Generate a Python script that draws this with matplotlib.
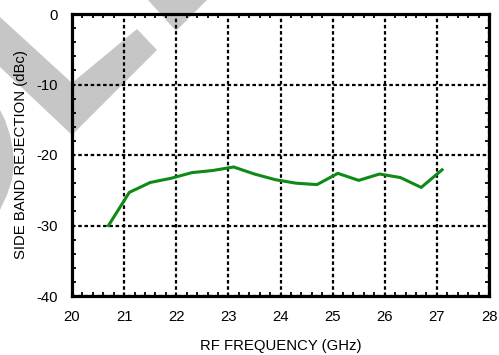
import numpy as np
import matplotlib
matplotlib.use("Agg")
import matplotlib.pyplot as plt
from matplotlib.patches import Polygon
from matplotlib.ticker import MultipleLocator

# Datos
frecuencia = [20.7, 21.1, 21.5, 21.9, 22.3, 22.7, 23.1, 23.5, 23.9, 24.3,
              24.7, 25.1, 25.5, 25.9, 26.3, 26.7, 27.1]
rechazo = [-30.0, -25.3, -23.9, -23.3, -22.5, -22.2, -21.7, -22.7, -23.5, -24.0,
           -24.2, -22.6, -23.6, -22.7, -23.2, -24.6, -22.1]
x_ticks = [20, 21, 22, 23, 24, 25, 26, 27, 28]
y_ticks = [0, -10, -20, -30, -40]

plt.rcParams['font.family'] = ['Liberation Sans', 'DejaVu Sans']
plt.rcParams['axes.unicode_minus'] = False

W, H = 499, 355
fig = plt.figure(figsize=(W / 100, H / 100), dpi=100)

# Marca de agua gris (coordenadas en pixeles de la imagen)
formas = [
    [(0, 17), (72, 83), (137, 29), (157, 50), (72, 135), (0, 67)],
    [(148, 0), (207, 0), (176, 31)],
    [(0, 110), (5, 120), (10, 135), (13, 150), (14, 165), (12, 180), (7, 195), (0, 210)],
]
for f in formas:
    pts = [(px / W, 1 - py / H) for px, py in f]
    fig.patches.append(Polygon(pts, closed=True, transform=fig.transFigure,
                               facecolor='#c6c6c6', edgecolor='none', zorder=-5))

ax = fig.add_axes([72 / W, 1 - 296 / H, (489 - 72) / W, (296 - 14) / H])
ax.set_facecolor('none')

ax.plot(frecuencia, rechazo, color='#0e8a16', linewidth=2.2, zorder=3)

ax.set_xlim(20, 28)
ax.set_ylim(-40, 0)
ax.set_xticks(x_ticks)
ax.set_yticks(y_ticks)
ax.xaxis.set_minor_locator(MultipleLocator(0.2))
ax.yaxis.set_minor_locator(MultipleLocator(2))

ax.grid(True, which='major', color='black', linewidth=1.6,
        linestyle=(0, (1.6, 1.2)))

for s in ax.spines.values():
    s.set_linewidth(2.3)
    s.set_zorder(4)

ax.tick_params(which='both', direction='in', top=True, right=True,
               labelsize=10.7, colors='black')
ax.tick_params(which='major', length=0, pad=10)
ax.tick_params(which='minor', length=3, width=1.3)

ax.set_xlabel('RF FREQUENCY (GHz)', fontsize=10.7, labelpad=11)
ax.set_ylabel('SIDE BAND REJECTION (dBc)', fontsize=10.7, labelpad=6)

fig.savefig('out.png', dpi=100)
